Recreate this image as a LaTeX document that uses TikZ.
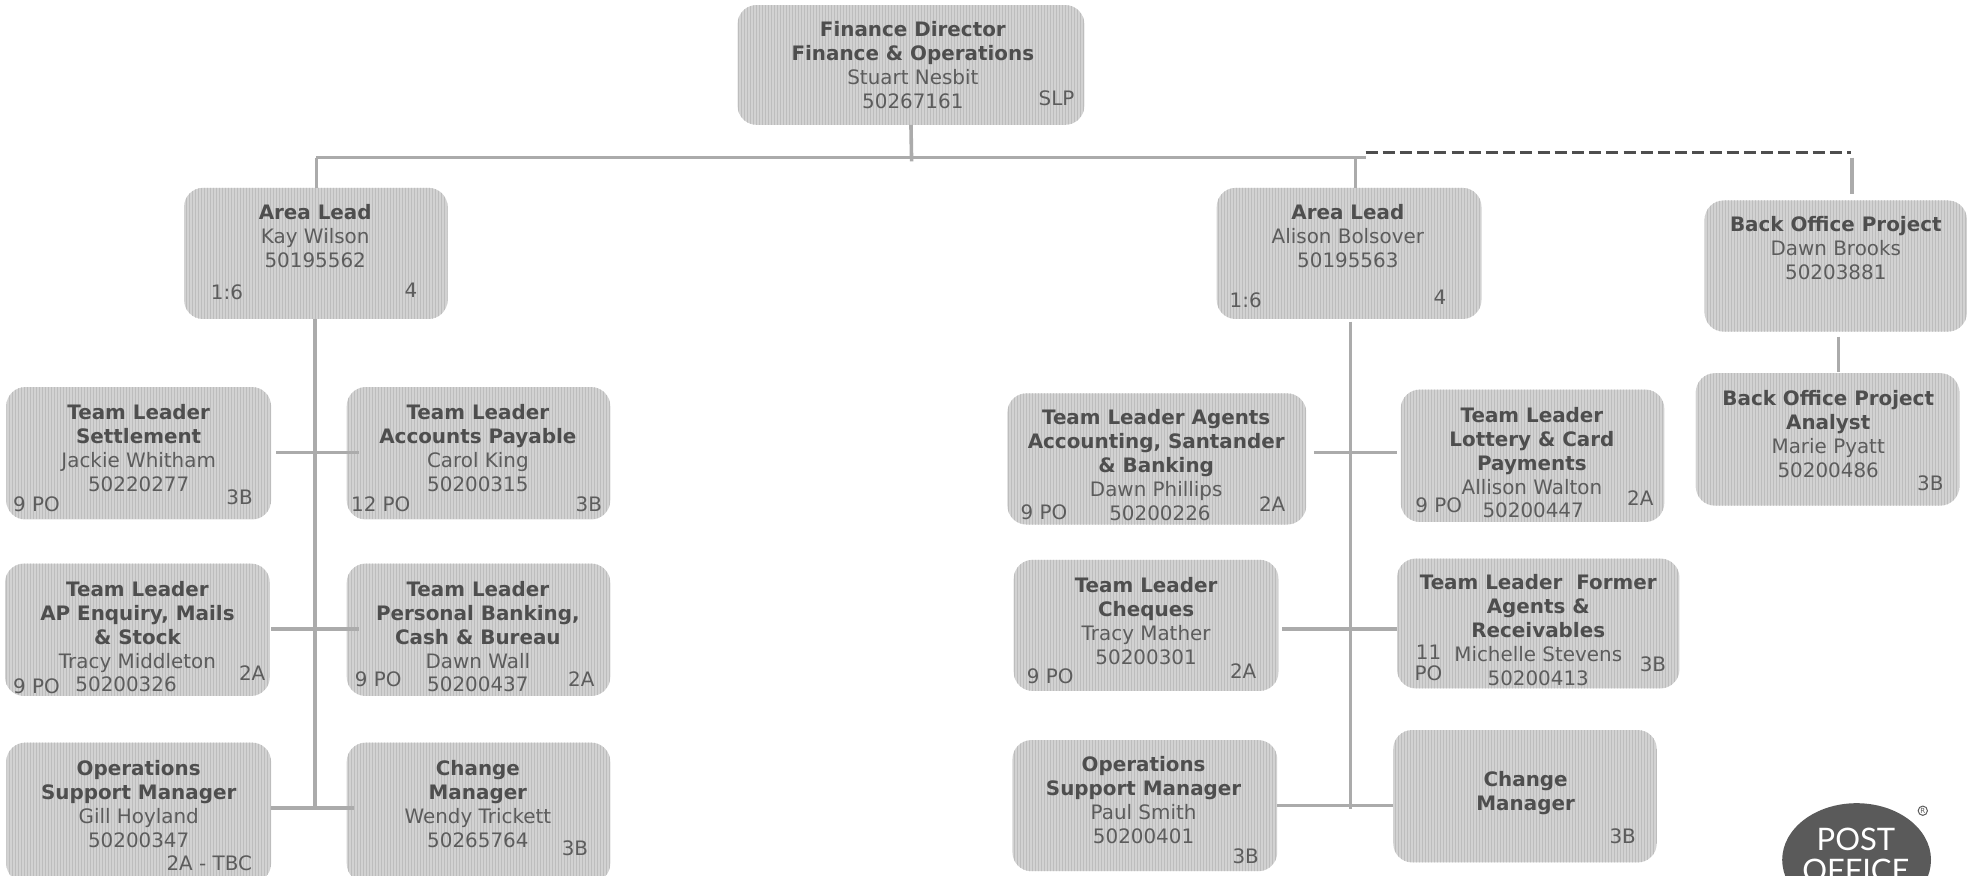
\documentclass[tikz,border=0pt]{standalone}
\usepackage{fontspec}
\usetikzlibrary{shapes.geometric,patterns.meta}
\setmainfont{DejaVu Sans}
\newfontfamily\logofont{Lato}
\definecolor{boxfill}{HTML}{D2D2D2}
\definecolor{boxgrain}{HTML}{BDBDBD}
\definecolor{linecol}{HTML}{ABABAB}
\definecolor{inktext}{HTML}{5C5C5C}
\definecolor{inkbold}{HTML}{4E4E4E}
\definecolor{logofill}{HTML}{5A5A5A}
\newcommand\orgbox[5]{%
  \pgfmathsetmacro\cxx{(#2+#4)/2}\pgfmathsetmacro\cyy{(#3+#5)/2}%
  \pgfmathsetmacro\ww{(#4-#2)*0.6304}\pgfmathsetmacro\hh{(#5-#3)*0.6304}%
  \node[orgshape,minimum width=\ww pt,minimum height=\hh pt] (#1) at (\cxx,\cyy) {};}
\newcommand\tb[1]{{\bfseries\color{inkbold}#1}}
\tikzset{
  orgshape/.style={fill=boxfill,draw=none,rounded corners=9.5pt,inner sep=0pt,outer sep=0pt,
    postaction={pattern={Lines[angle=90,distance=1.5pt,line width=0.5pt]},pattern color=boxgrain}},
  blocktext/.style={anchor=north,align=center,inner sep=0pt,text=inktext,font=\fontsize{9.95}{12}\selectfont},
  tagtext/.style={inner sep=0pt,text=inktext,font=\fontsize{9.95}{12}\selectfont},
  link/.style={draw=linecol,line width=1.8pt},
}
\newcommand\blk[4]{\node[blocktext] (#1) at (#2,#3-7.8) {\strut #4};}
\begin{document}
\begin{tikzpicture}[x=0.6304pt,y=-0.6304pt]
\useasboundingbox (0,0) rectangle (1568,694);
\clip (0,0) rectangle (1568,694);
% boxes
\orgbox{dir}{585}{4}{860}{99}
\orgbox{alL}{146}{149}{355}{253}
\orgbox{alR}{965}{149}{1175}{253}
\orgbox{bop}{1352}{159}{1560}{263}
\orgbox{boa}{1345}{296}{1554}{401}
\orgbox{tla}{5}{307}{215}{412}
\orgbox{tlb}{275}{307}{484}{412}
\orgbox{tlc}{4}{447}{214}{552}
\orgbox{tld}{275}{447}{484}{552}
\orgbox{ops}{5}{589}{215}{700}
\orgbox{chg}{275}{589}{484}{700}
\orgbox{tle}{799}{312}{1036}{416}
\orgbox{tlf}{1111}{309}{1320}{414}
\orgbox{tlg}{804}{444}{1014}{548}
\orgbox{tlh}{1108}{443}{1332}{546}
\orgbox{opr}{803}{587}{1013}{691}
\orgbox{chr}{1105}{579}{1314}{684}
% junction coordinates
\coordinate (busL) at (251,125);
\coordinate (busR) at (1083,125);
\coordinate (busD) at (1075,125);
\coordinate (dirEnd) at (723,128);
\coordinate (dashL) at (1083,121);
\coordinate (dashR) at (1468,121);
\coordinate (bopTop) at (1469,125);
\coordinate (bopLow) at (1469,154);
\coordinate (trkLt) at (250,253);
\coordinate (trkLb) at (250,641);
\coordinate (trkRt) at (1071,255);
\coordinate (trkRb) at (1071,642);
\coordinate (j1a) at (219,359);
\coordinate (j1b) at (285,359);
\coordinate (j2a) at (215,499);
\coordinate (j2b) at (285,499);
\coordinate (j3a) at (215,641);
\coordinate (j3b) at (281,641);
\coordinate (j4a) at (1042,359);
\coordinate (j4b) at (1108,359);
\coordinate (j5a) at (1017,499);
\coordinate (j5b) at (1108,499);
\coordinate (j6a) at (1013,639);
\coordinate (j6b) at (1105,639);
\coordinate (boT) at (1458,267);
\coordinate (boB) at (1458,295);
% connectors
\draw[link] (dir.south) -- (dirEnd);
\draw[link] (busL) -- (busR);
\draw[link] (busL) -- (alL.north -| busL);
\draw[link] (busD) -- (busD |- alR.north);
\draw[line width=1.6pt,draw=inkbold,dash pattern=on 6pt off 2.6pt] (dashL) -- (dashR);
\draw[link] (bopTop) -- (bopLow);
\draw[link] (trkLt) -- (trkLb);
\draw[link] (trkRt) -- (trkRb);
\draw[link] (j1a) -- (j1b);
\draw[link] (j2a) -- (j2b);
\draw[link] (j3a) -- (j3b);
\draw[link] (j4a) -- (j4b);
\draw[link] (j5a) -- (j5b);
\draw[link] (j6a) -- (j6b);
\draw[link] (boT) -- (boB);
% texts
\blk{t1}{724}{23}{\tb{Finance Director}\\\tb{Finance \& Operations}\\Stuart Nesbit\\50267161}
\node[tagtext] (g1) at (838,78) {SLP};
\blk{t2}{250}{168}{\tb{Area Lead}\\Kay Wilson\\50195562}
\node[tagtext] (g2) at (180,232) {1:6};
\node[tagtext] (g3) at (326,230) {4};
\blk{t3}{1069}{168}{\tb{Area Lead}\\Alison Bolsover\\50195563}
\node[tagtext] (g4) at (988,238) {1:6};
\node[tagtext] (g5) at (1142,236) {4};
\blk{t4}{1456}{178}{\tb{Back Office Project}\\Dawn Brooks\\50203881}
\blk{t5}{1450}{316}{\tb{Back Office Project}\\\tb{Analyst}\\Marie Pyatt\\50200486}
\node[tagtext] (g6) at (1531,383) {3B};
\blk{t6}{110}{327}{\tb{Team Leader}\\\tb{Settlement}\\Jackie Whitham\\50220277}
\node[tagtext] (g7) at (29,400) {9 PO};
\node[tagtext] (g8) at (190,394) {3B};
\blk{t7}{379}{327}{\tb{Team Leader}\\\tb{Accounts Payable}\\Carol King\\50200315}
\node[tagtext] (g9) at (302,400) {12 PO};
\node[tagtext] (g10) at (467,400) {3B};
\blk{t8}{109}{467}{\tb{Team Leader}\\\tb{AP Enquiry, Mails}\\\tb{\& Stock}\\Tracy Middleton}
\node[tagtext] (g11) at (100,543) {50200326};
\node[tagtext] (g12) at (29,544) {9 PO};
\node[tagtext] (g13) at (200,534) {2A};
\blk{t9}{379}{467}{\tb{Team Leader}\\\tb{Personal Banking,}\\\tb{Cash \& Bureau}\\Dawn Wall}
\node[tagtext] (g14) at (379,543) {50200437};
\node[tagtext] (g15) at (300,539) {9 PO};
\node[tagtext] (g16) at (461,539) {2A};
\blk{t10}{110}{609}{\tb{Operations}\\\tb{Support Manager}\\Gill Hoyland\\50200347}
\node[tagtext] (g17) at (166,685) {2A - TBC};
\blk{t11}{379}{609}{\tb{Change}\\\tb{Manager}\\Wendy Trickett\\50265764}
\node[tagtext] (g18) at (456,673) {3B};
\blk{t12}{917}{331}{\tb{Team Leader Agents}\\\tb{Accounting, Santander}\\\tb{\& Banking}\\Dawn Phillips}
\node[tagtext] (g19) at (920,407) {50200226};
\node[tagtext] (g20) at (828,406) {9 PO};
\node[tagtext] (g21) at (1009,400) {2A};
\blk{t13}{1215}{329}{\tb{Team Leader}\\\tb{Lottery \& Card}\\\tb{Payments}\\Allison Walton}
\node[tagtext] (g22) at (1216,405) {50200447};
\node[tagtext] (g23) at (1141,401) {9 PO};
\node[tagtext] (g24) at (1301,395) {2A};
\blk{t14}{909}{464}{\tb{Team Leader}\\\tb{Cheques}\\Tracy Mather\\50200301}
\node[tagtext] (g25) at (833,536) {9 PO};
\node[tagtext] (g26) at (986,532) {2A};
\blk{t15}{1220}{462}{\tb{Team Leader\ \ Former}\\\tb{Agents \&}\\\tb{Receivables}\\Michelle Stevens\\50200413}
\node[tagtext] (g27) at (1133,517) {11};
\node[tagtext] (g28) at (1133,534) {PO};
\node[tagtext] (g29) at (1311,527) {3B};
\blk{t16}{907}{606}{\tb{Operations}\\\tb{Support Manager}\\Paul Smith\\50200401}
\node[tagtext] (g30) at (988,679) {3B};
\blk{t17}{1210}{618}{\tb{Change}\\\tb{Manager}}
\node[tagtext] (g31) at (1287,663) {3B};
% logo
\node[ellipse,fill=logofill,inner sep=0pt,minimum width=74.4pt,minimum height=56.7pt] (logo) at (1472.5,682) {};
\node[inner sep=0pt,text=white,font=\logofont\fontsize{15.5}{18}\selectfont] (lg1) at (1472,666) {POST};
\node[inner sep=0pt,text=white,font=\logofont\fontsize{15.5}{18}\selectfont] (lg2) at (1472,690) {OFFICE};
\node[circle,draw=inktext,line width=0.5pt,inner sep=0.4pt,text=inktext,font=\fontsize{3.5}{4}\selectfont] (lg3) at (1525,643) {R};
\end{tikzpicture}
\end{document}
